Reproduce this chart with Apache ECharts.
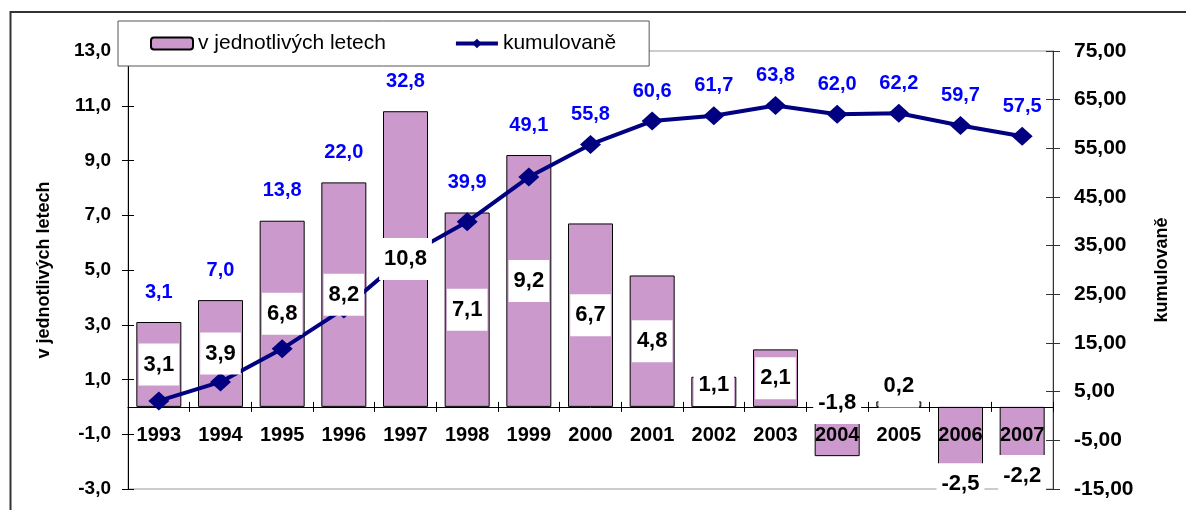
<!DOCTYPE html>
<html><head><meta charset="utf-8">
<script src="https://cdn.jsdelivr.net/npm/echarts@6/dist/echarts.min.js"></script>
<style>html,body{margin:0;padding:0;background:#fff}#c{width:1186px;height:510px}</style>
</head><body><div id="c"></div>
<script>
const years = ['1993','1994','1995','1996','1997','1998','1999','2000','2001','2002','2003','2004','2005','2006','2007'];
const annual = [3.1, 3.9, 6.8, 8.2, 10.8, 7.1, 9.2, 6.7, 4.8, 1.1, 2.1, -1.8, 0.2, -2.5, -2.2];
const cumulative = [3.1, 7.0, 13.8, 22.0, 32.8, 39.9, 49.1, 55.8, 60.6, 61.7, 63.8, 62.0, 62.2, 59.7, 57.5];
const leftTicks = [-3, -1, 1, 3, 5, 7, 9, 11, 13];
const rightTicks = [-15, -5, 5, 15, 25, 35, 45, 55, 65, 75];
const seriesNames = ['v jednotlivých letech', 'kumulovaně'];

const FONT = "'Liberation Sans', Arial, sans-serif";
const fmt1 = v => Number(v).toFixed(1).replace('.', ',');
const fmt2 = v => Number(v).toFixed(2).replace('.', ',');

function barLabel(v) {
  const base = {show: true, formatter: p => fmt1(p.value), color: '#000', fontWeight: 'bold',
    fontSize: 22, fontFamily: FONT, backgroundColor: '#fff', padding: [10, 5], lineHeight: 22};
  if (v < -2) return Object.assign({}, base, {position: 'bottom', distance: -12});
  if (v < 0) return Object.assign({}, base, {position: 'top', distance: -17});
  if (v < 0.5) return Object.assign({}, base, {position: 'top', distance: -6});
  if (v < 1.5) return Object.assign({}, base, {position: 'insideBottom', distance: 1});
  return Object.assign({}, base, {position: 'inside'});
}

const tickLabel = (fs, fmt, margin) => ({color: '#000', fontWeight: 'bold', fontSize: fs, fontFamily: FONT, margin: margin, formatter: fmt});
const nameStyle = {color: '#000', fontWeight: 'bold', fontSize: 18, fontFamily: FONT};

const chart = echarts.init(document.getElementById('c'), null, {renderer: 'canvas'});
chart.setOption({
  animation: false,
  backgroundColor: '#fff',
  graphic: [{type: 'rect', shape: {x: 10.5, y: 12, width: 1300, height: 600}, style: {fill: 'none', stroke: '#333', lineWidth: 2}, z: 0, silent: true}],
  grid: {left: 128, right: 133, top: 51, bottom: 21, show: true, borderColor: '#999', borderWidth: 1,
    backgroundColor: 'transparent', containLabel: false, outerBoundsMode: 'none'},
  legend: {
    data: [
      {name: seriesNames[0]},
      {name: seriesNames[1], lineStyle: {width: 4, color: '#000080'}, itemStyle: {color: '#000080'}}
    ],
    left: 118, top: 21, orient: 'horizontal', backgroundColor: '#fff',
    borderColor: '#555', borderWidth: 1, padding: [12, 33, 12, 32], itemGap: 68,
    itemWidth: 42, itemHeight: 12, z: 10,
    textStyle: {fontSize: 21, fontFamily: FONT, color: '#000', lineHeight: 21}
  },
  xAxis: [{
    type: 'category', data: years, position: 'bottom', z: 5, offset: 0,
    axisLine: {onZero: false, lineStyle: {color: '#000', width: 1}},
    axisTick: {show: true, length: 5, lineStyle: {color: '#000'}},
    axisLabel: {color: '#000', fontWeight: 'bold', fontSize: 20, fontFamily: FONT, margin: 19, interval: 0},
    splitLine: {show: false}
  }, {
    type: 'category', data: years, position: 'bottom', z: 5, offset: 0,
    axisLine: {show: false, onZero: false},
    axisTick: {show: true, inside: true, length: 5, lineStyle: {color: '#000'}},
    axisLabel: {show: false}, splitLine: {show: false}
  }],
  yAxis: [{
    type: 'value', position: 'left', min: -3, max: 13,
    name: seriesNames[0], nameLocation: 'middle', nameGap: 75, nameRotate: 90, nameTextStyle: nameStyle,
    axisLine: {show: true, lineStyle: {color: '#000'}},
    axisTick: {show: true, length: 6, customValues: leftTicks, lineStyle: {color: '#000'}},
    axisLabel: Object.assign(tickLabel(19, fmt1, 17), {customValues: leftTicks}),
    splitLine: {show: false}
  }, {
    type: 'value', position: 'right', min: -15, max: 75,
    name: seriesNames[1], nameLocation: 'middle', nameGap: 100, nameRotate: 90, nameTextStyle: nameStyle,
    axisLine: {show: true, lineStyle: {color: '#333'}},
    axisTick: {show: true, length: 7, customValues: rightTicks, lineStyle: {color: '#333'}},
    axisLabel: Object.assign(tickLabel(21, fmt2, 21), {customValues: rightTicks}),
    splitLine: {show: false}
  }, {
    type: 'value', position: 'left', min: -3, max: 13,
    axisLine: {show: false},
    axisTick: {show: true, inside: true, length: 6, customValues: leftTicks, lineStyle: {color: '#000'}},
    axisLabel: {show: false}, splitLine: {show: false}
  }, {
    type: 'value', position: 'right', min: -15, max: 75,
    axisLine: {show: false},
    axisTick: {show: true, inside: true, length: 7, customValues: rightTicks, lineStyle: {color: '#333'}},
    axisLabel: {show: false}, splitLine: {show: false}
  }],
  series: [{
    id: 'bars', name: seriesNames[0], type: 'bar', data: annual, barWidth: 45,
    xAxisIndex: 0, yAxisIndex: 0, z: 2,
    itemStyle: {color: '#CC99CC', borderColor: '#000', borderWidth: 1}
  }, {
    id: 'cum', name: seriesNames[1], type: 'line', data: cumulative, xAxisIndex: 0, yAxisIndex: 1, z: 3,
    symbol: 'diamond', symbolSize: [21, 19],
    lineStyle: {color: '#000080', width: 4}, itemStyle: {color: '#000080'},
    label: {show: true, position: 'inside', formatter: p => fmt1(p.value), color: '#0000FF',
      fontWeight: 'bold', fontSize: 20, fontFamily: FONT}
  }, {
    id: 'barlabels', type: 'bar', data: annual.map(v => ({value: v, label: barLabel(v)})),
    barWidth: 45, barGap: '-100%', xAxisIndex: 0, yAxisIndex: 0, z: 6, silent: true,
    itemStyle: {color: 'rgba(0,0,0,0)', borderWidth: 0}
  }]
});

// move the category axis to the zero line of the left value axis (via the axis scale)
const yZero = chart.convertToPixel({yAxisIndex: 0}, 0);
const yBottom = chart.convertToPixel({yAxisIndex: 0}, leftTicks[0]);
const axisShift = yZero - yBottom;

// place cumulative labels above the taller of bar / point, via the axes' own scales
const cumData = cumulative.map((c, i) => {
  const yPt = chart.convertToPixel({yAxisIndex: 1}, c);
  const yBar = chart.convertToPixel({yAxisIndex: 0}, annual[i]);
  const top = Math.min(yPt, yBar, yZero);
  return {value: c, label: {offset: [0, top - 30 - yPt]}};
});
chart.setOption({
  xAxis: [{offset: axisShift}, {offset: axisShift}],
  series: [{id: 'cum', data: cumData}]
});
</script>
</body></html>
